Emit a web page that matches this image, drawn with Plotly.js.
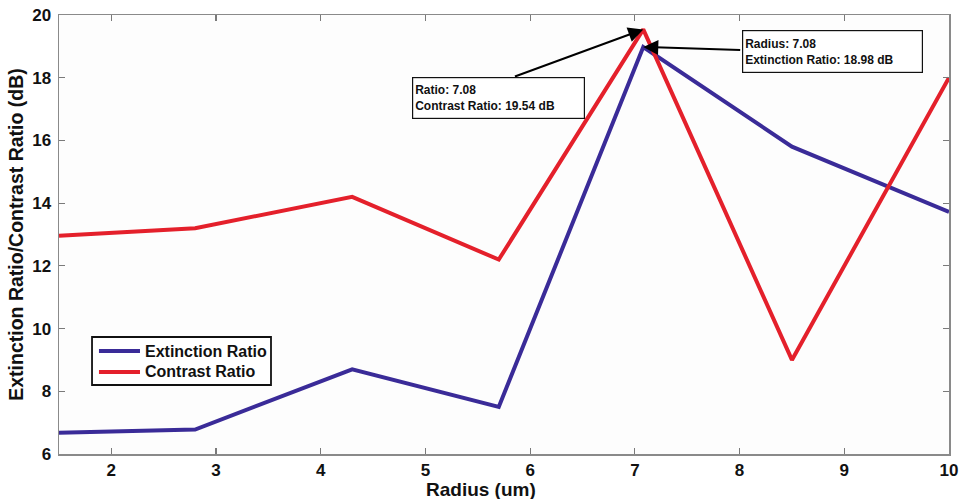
<!DOCTYPE html>
<html>
<head>
<meta charset="utf-8">
<script src="https://cdn.plot.ly/plotly-3.0.1.min.js"></script>
<style>
  html, body { margin: 0; padding: 0; background: #ffffff; }
  #chart { width: 962px; height: 499px; }
</style>
</head>
<body>
<div id="chart"></div>
<script>
// Ring radius sweep (um)
const radius = [1.5, 2.8, 4.3, 5.7, 7.08, 8.5, 10];
// Extinction ratio (dB) at each radius
const extinctionRatio = [6.68, 6.78, 8.7, 7.5, 18.98, 15.8, 13.72];
// Contrast ratio (dB) at each radius
const contrastRatio = [12.96, 13.2, 14.2, 12.2, 19.54, 9.0, 18.0];

const seriesNames = ['Extinction Ratio', 'Contrast Ratio'];
const seriesColors = ['#3a2b98', '#e4202b'];
const xTicks = [2, 3, 4, 5, 6, 7, 8, 9, 10];
const yTicks = [6, 8, 10, 12, 14, 16, 18, 20];

// Peak points called out with data tips
const peakIndex = 4;

const FONT = 'Liberation Sans, Arial, Helvetica, sans-serif';

const traces = [
  {
    x: radius, y: extinctionRatio, name: seriesNames[0],
    type: 'scatter', mode: 'lines',
    line: { color: seriesColors[0], width: 4 }
  },
  {
    x: radius, y: contrastRatio, name: seriesNames[1],
    type: 'scatter', mode: 'lines',
    line: { color: seriesColors[1], width: 4 }
  }
];

const axisCommon = {
  showline: true, linecolor: '#8a8a8a', linewidth: 1.5,
  mirror: 'ticks', ticks: 'inside', ticklen: 6, tickwidth: 1.2, tickcolor: '#7a7a7a',
  showgrid: false, zeroline: false,
  tickfont: { family: FONT, size: 17, color: '#111', weight: 'bold' }
};

const tipFont = { family: FONT, size: 12, color: '#111', weight: 'bold' };
const legendFont = { family: FONT, size: 16, color: '#111', weight: 'bold' };

// Boxed legend in the lower-left corner of the axes (paper coordinates)
const legendBox = { x0: 0.0371, x1: 0.2382, y0: 0.1572, y1: 0.2665 };
const legendRows = [0.2346, 0.1868];
const legendShapes = [
  { type: 'rect', xref: 'paper', yref: 'paper',
    x0: legendBox.x0, x1: legendBox.x1, y0: legendBox.y0, y1: legendBox.y1,
    line: { color: '#111', width: 1.8 }, fillcolor: '#ffffff', layer: 'above' }
];
const legendNotes = [];
seriesNames.forEach((name, i) => {
  legendShapes.push({
    type: 'line', xref: 'paper', yref: 'paper',
    x0: 0.0449, x1: 0.0910, y0: legendRows[i], y1: legendRows[i],
    line: { color: seriesColors[i], width: 4 }, layer: 'above'
  });
  legendNotes.push({
    xref: 'paper', yref: 'paper', x: 0.0944, y: legendRows[i],
    xanchor: 'left', yanchor: 'middle', showarrow: false,
    text: name, font: legendFont
  });
});

const layout = {
  width: 962, height: 499,
  margin: { l: 59, r: 13, t: 15, b: 45 },
  paper_bgcolor: '#ffffff',
  plot_bgcolor: '#fdfdfd',
  showlegend: false,
  xaxis: Object.assign({}, axisCommon, {
    range: [1.5, 10], tickvals: xTicks, ticktext: xTicks.map(String)
  }),
  yaxis: Object.assign({}, axisCommon, {
    range: [6, 20], tickvals: yTicks, ticktext: yTicks.map(String),
    ticklabelstandoff: 3,
    title: { text: 'Extinction Ratio/Contrast Ratio (dB)', standoff: 3,
      font: { family: FONT, size: 19.5, color: '#111', weight: 'bold' } }
  }),
  shapes: legendShapes,
  annotations: [
    // x-axis title
    {
      xref: 'paper', yref: 'paper', x: 0.474, y: -0.0547,
      xanchor: 'center', yanchor: 'top', showarrow: false,
      text: 'Radius (um)', borderpad: 0,
      font: { family: FONT, size: 19, color: '#111', weight: 'bold' }
    },
    // arrow to extinction ratio peak
    {
      x: radius[peakIndex], y: extinctionRatio[peakIndex], xref: 'x', yref: 'y',
      axref: 'x', ayref: 'y', ax: 8.02, ay: 18.88,
      text: '', showarrow: true, arrowhead: 2, arrowsize: 1.5, arrowwidth: 2,
      arrowcolor: '#000', standoff: 0
    },
    // arrow to contrast ratio peak
    {
      x: radius[peakIndex], y: contrastRatio[peakIndex], xref: 'x', yref: 'y',
      axref: 'x', ayref: 'y', ax: 5.84, ay: 18.02,
      text: '', showarrow: true, arrowhead: 2, arrowsize: 1.5, arrowwidth: 2,
      arrowcolor: '#000', standoff: 0
    },
    {
      x: 8.888, y: 18.836, xref: 'x', yref: 'y',
      text: 'Radius: ' + radius[peakIndex].toFixed(2) + '<br>Extinction Ratio: ' +
            extinctionRatio[peakIndex].toFixed(2) + ' dB',
      showarrow: false, align: 'left', width: 175, height: 37,
      bgcolor: '#ffffff', bordercolor: '#111', borderwidth: 1.2, borderpad: 2,
      font: tipFont
    },
    {
      x: 5.698, y: 17.353, xref: 'x', yref: 'y',
      text: 'Ratio: ' + radius[peakIndex].toFixed(2) + '<br>Contrast Ratio: ' +
            contrastRatio[peakIndex].toFixed(2) + ' dB',
      showarrow: false, align: 'left', width: 167, height: 36,
      bgcolor: '#ffffff', bordercolor: '#111', borderwidth: 1.2, borderpad: 2,
      font: tipFont
    }
  ].concat(legendNotes)
};

Plotly.newPlot('chart', traces, layout, { displayModeBar: false, staticPlot: true });
</script>
</body>
</html>
